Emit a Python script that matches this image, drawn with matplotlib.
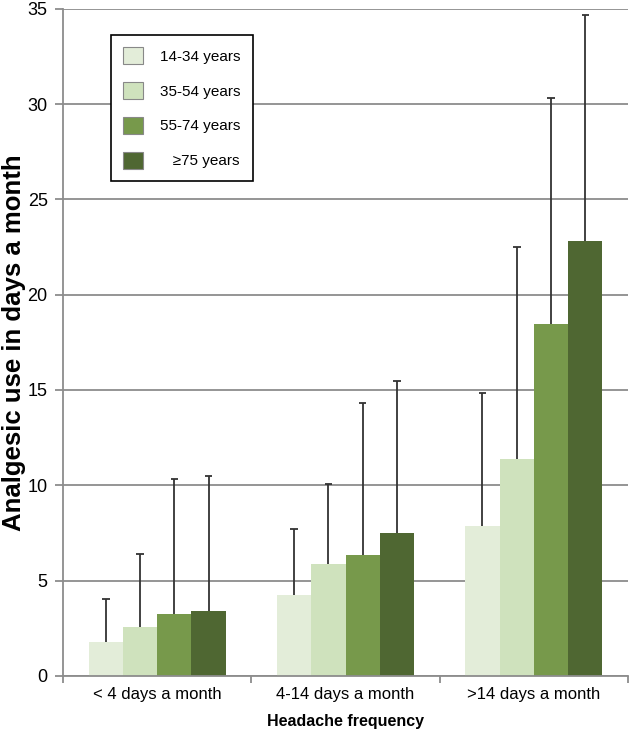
import matplotlib
matplotlib.use("Agg")
import matplotlib.pyplot as plt
import numpy as np

categories = ["< 4 days a month", "4-14 days a month", ">14 days a month"]
age_groups = ["14-34 years", "35-54 years", "55-74 years", "   \u226575 years"]
means = [
    [1.75, 4.25, 7.85],
    [2.55, 5.85, 11.4],
    [3.25, 6.35, 18.45],
    [3.4, 7.5, 22.8],
]
upper = [
    [4.05, 7.7, 14.85],
    [6.4, 10.05, 22.5],
    [10.35, 14.3, 30.3],
    [10.5, 15.45, 34.7],
]
colors = ["#e3edd9", "#cfe2bd", "#77994b", "#4f6732"]

plt.rcParams['font.family'] = ['Liberation Sans', 'DejaVu Sans']

fig = plt.figure(figsize=(6.3, 7.37), dpi=100)
ax = fig.add_axes([0.1, 0.083, 0.897, 0.905])

x = np.arange(len(categories))
width = 0.182
cap = 0.02
for i in range(4):
    pos = x + (i - 1.5) * width
    ax.bar(pos, means[i], width, color=colors[i], label=age_groups[i], zorder=2)
    ax.vlines(pos, means[i], upper[i], color="#333333", linewidth=1.3, zorder=3)
    ax.hlines(upper[i], pos - cap, pos + cap, color="#333333", linewidth=1.3, zorder=3)

ax.set_ylim(0, 35)
ax.set_xlim(-0.5, 2.5)
ax.set_yticks(range(0, 36, 5))
ax.yaxis.grid(True, color="#8c8c8c", linewidth=1.3, zorder=0)
ax.set_axisbelow(True)

ax.set_xticks(x)
ax.set_xticklabels(categories, fontsize=12)
ax.set_xticks([-0.5, 0.5, 1.5, 2.5], minor=True)
ax.tick_params(axis="x", which="major", length=0, pad=8)
ax.tick_params(axis="x", which="minor", length=5, color="#8c8c8c", width=1.3)
ax.tick_params(axis="y", length=6, color="#8c8c8c", width=1.3, labelsize=13, pad=5)

for side in ["top", "right"]:
    ax.spines[side].set_visible(False)
for side in ["left", "bottom"]:
    ax.spines[side].set_color("#8c8c8c")
    ax.spines[side].set_linewidth(1.3)

ax.set_ylabel("Analgesic use in days a month", fontsize=18.5, fontweight="bold")
ax.yaxis.set_label_coords(-0.065, 0.5)
ax.set_xlabel("Headache frequency", fontsize=11.5, fontweight="bold", labelpad=9)

leg = ax.legend(loc="upper left", bbox_to_anchor=(0.085, 0.961), fontsize=11,
                frameon=True, fancybox=False, edgecolor="black", framealpha=1,
                handlelength=1.3, handleheight=1.3, labelspacing=1.2,
                handletextpad=1.1, borderpad=0.8, borderaxespad=0)
leg.get_frame().set_linewidth(1.2)
for p in leg.get_patches():
    p.set_edgecolor("#888888")
    p.set_linewidth(0.8)

plt.savefig("out.png", dpi=100)
